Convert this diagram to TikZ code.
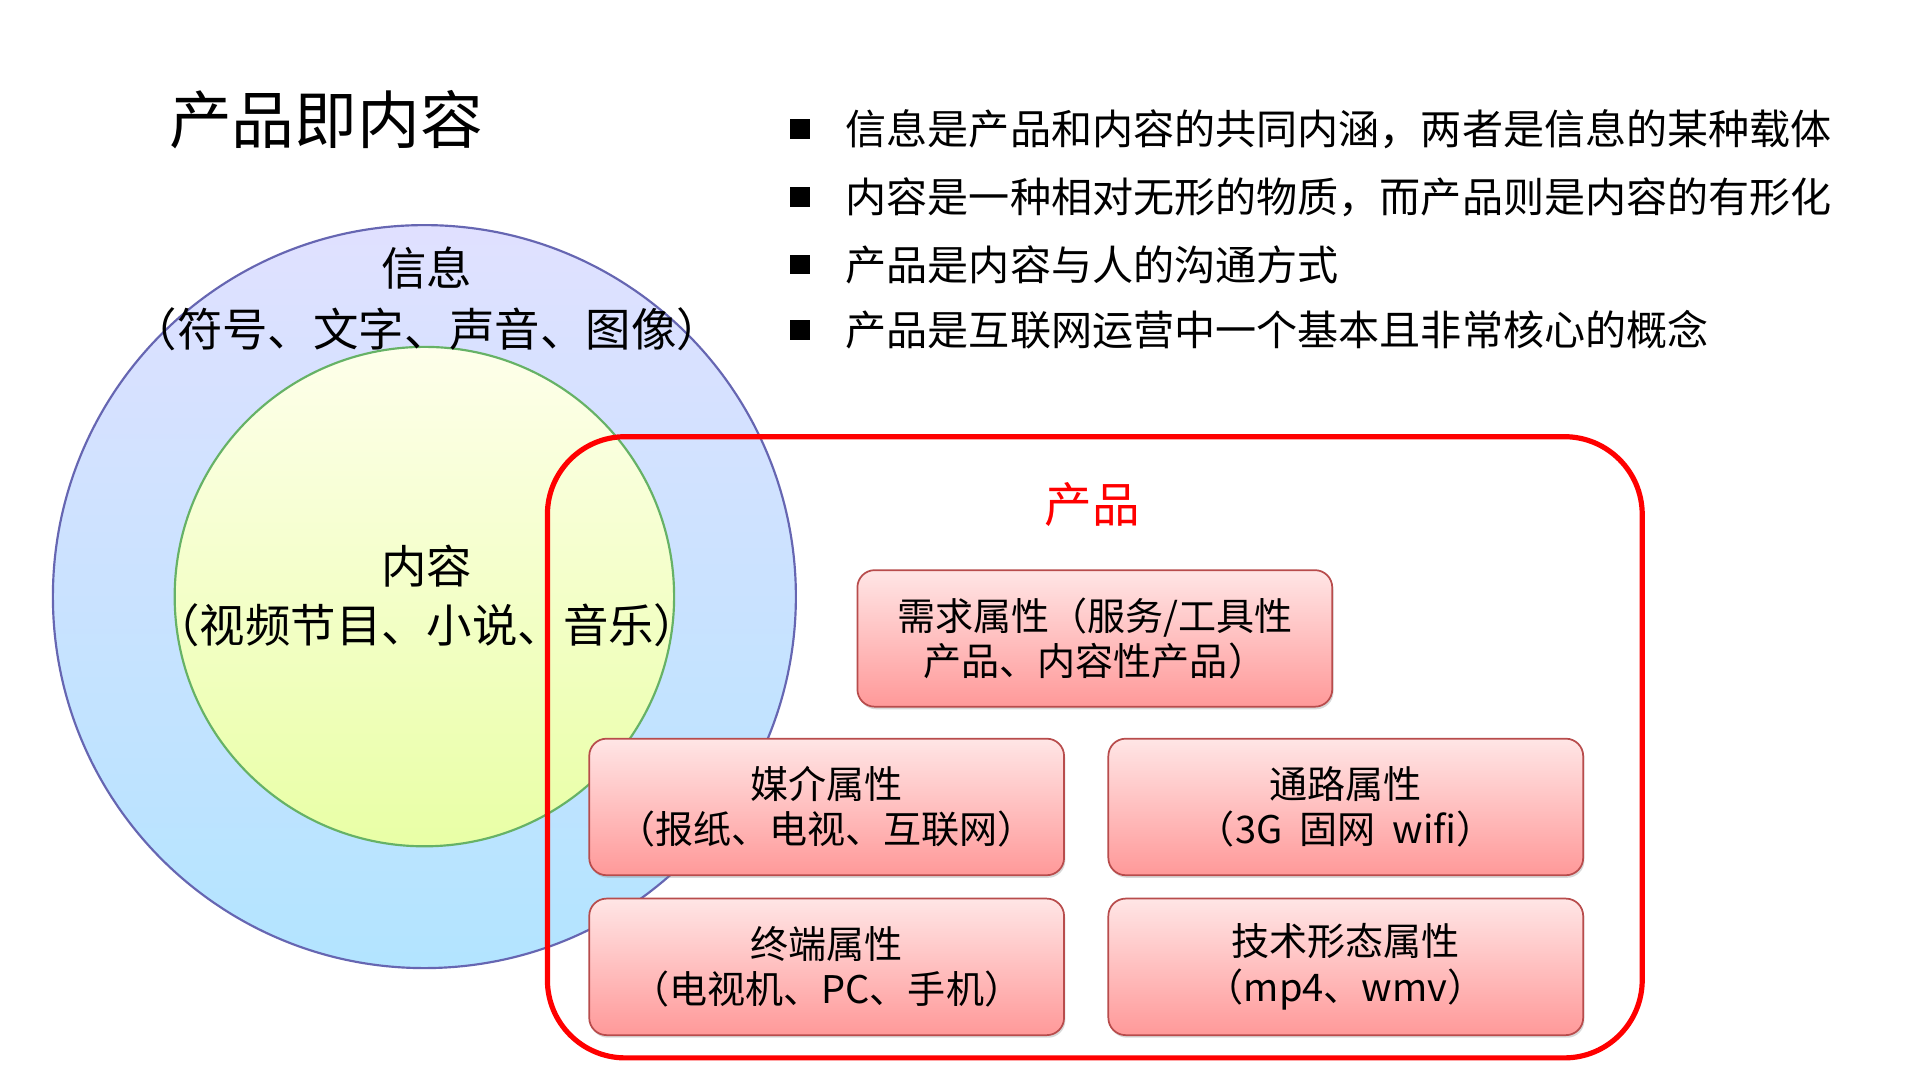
\documentclass[tikz,border=0pt]{standalone}
\usepackage{fontspec}
\setmainfont{Noto Sans CJK SC}
\usetikzlibrary{shadows}
\begin{document}
\begin{tikzpicture}[x=0.01cm,y=-0.01cm,
  circtxt/.style={font=\fontsize{10.5pt}{13pt}\selectfont,align=center},
  bul/.style={anchor=west,font=\fontsize{9.5pt}{12pt}\selectfont},
  sq/.style={fill=black,minimum size=4.6pt,inner sep=0pt},
  attr/.style={draw=red!60!black!70,line width=0.4pt,rounded corners=4pt,top color=red!10,bottom color=red!40,
    minimum width=386*0.01cm,minimum height=111*0.01cm,align=center,font=\fontsize{8.8pt}{10.5pt}\selectfont,
    drop shadow={opacity=0.3,shadow xshift=0.3pt,shadow yshift=-0.6pt}}]
\useasboundingbox (0,0) rectangle (1560,877);
\fill[white] (0,0) rectangle (1560,877);
\node (title) at (265,97) {\fontsize{14.5pt}{17pt}\selectfont 产品即内容};
\shade[top color=blue!12,bottom color=blue!35!cyan!30] (345,485) circle (302);
\draw[draw=blue!50!black!60,line width=0.5pt] (345,485) circle (302) coordinate (big);
\shade[top color=green!5!yellow!8,bottom color=green!25!yellow!35] (345,485) circle (203);
\draw[draw=green!50!black!60,line width=0.5pt] (345,485) circle (203);
\node[circtxt] (xx) at (347,218) {信息};
\node[circtxt] (xx2) at (347,268) {（符号、文字、声音、图像）};
\node[circtxt] (nr) at (347,460) {内容};
\node[circtxt] (nr2) at (347,508) {（视频节目、小说、音乐）};
\foreach \y/\t [count=\i] in {105/信息是产品和内容的共同内涵，两者是信息的某种载体,160/内容是一种相对无形的物质，而产品则是内容的有形化,215/产品是内容与人的沟通方式,268/产品是互联网运营中一个基本且非常核心的概念}{
  \node[sq] (s\i) at (650,\y) {};
  \node[bul] (b\i) at (675,\y) {\t};
}
\draw[red,line width=1.2pt,rounded corners=18pt] (445,355) rectangle (1335,860);
\node[text=red,font=\fontsize{11pt}{13pt}\selectfont] (cp) at (888,410) {产品};
\node[attr] (a1) at (890,519) {需求属性（服务/工具性\\产品、内容性产品）};
\node[attr] (a2) at (672,656) {媒介属性\\（报纸、电视、互联网）};
\node[attr] (a3) at (1094,656) {通路属性\\（3G\ \ 固网\ \ wifi）};
\node[attr] (a4) at (672,786) {终端属性\\（电视机、PC、手机）};
\node[attr] (a5) at (1094,786) {技术形态属性\\（mp4、wmv）};
\end{tikzpicture}
\end{document}
